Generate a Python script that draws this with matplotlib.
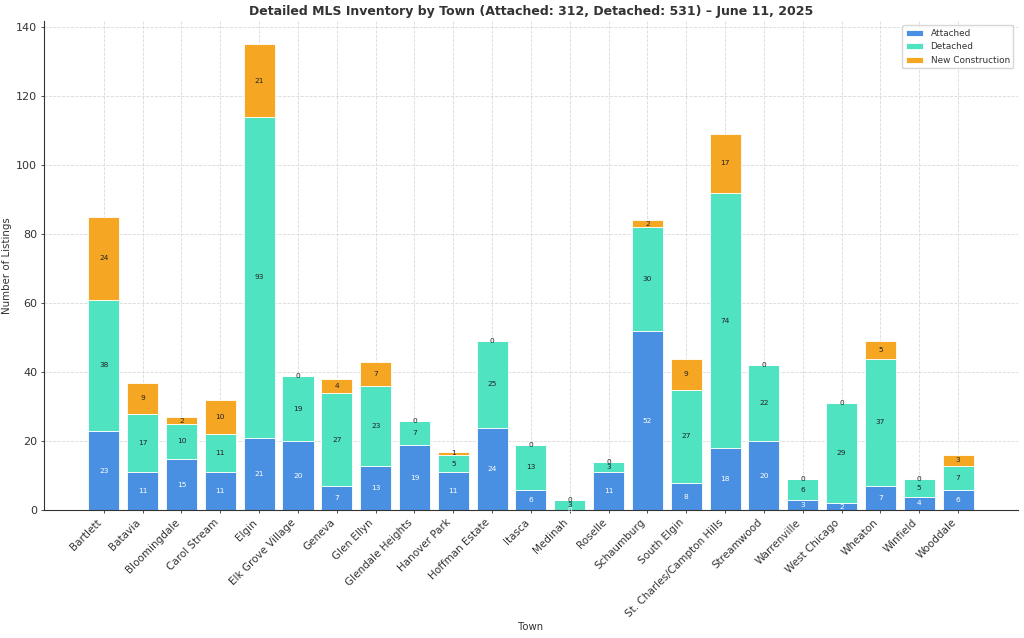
import matplotlib
matplotlib.use('Agg')
import matplotlib.pyplot as plt
import numpy as np

# MLS inventory, June 11, 2025
towns = ['Bartlett', 'Batavia', 'Bloomingdale', 'Carol Stream', 'Elgin',
         'Elk Grove Village', 'Geneva', 'Glen Ellyn', 'Glendale Heights',
         'Hanover Park', 'Hoffman Estate', 'Itasca', 'Medinah', 'Roselle',
         'Schaumburg', 'South Elgin', 'St. Charles/Campton Hills',
         'Streamwood', 'Warrenville', 'West Chicago', 'Wheaton', 'Winfield',
         'Wooddale']
attached = [23, 11, 15, 11, 21, 20, 7, 13, 19, 11, 24, 6, 0, 11, 52, 8, 18, 20, 3, 2, 7, 4, 6]
detached = [38, 17, 10, 11, 93, 19, 27, 23, 7, 5, 25, 13, 3, 3, 30, 27, 74, 22, 6, 29, 37, 5, 7]
new_construction = [24, 9, 2, 10, 21, 0, 4, 7, 0, 1, 0, 0, 0, 0, 2, 9, 17, 0, 0, 0, 5, 0, 3]

a = np.array(attached)
d = np.array(detached)
n = np.array(new_construction)
x = np.arange(len(towns))

txt = '#333333'
plt.rcParams['text.color'] = txt
plt.rcParams['axes.labelcolor'] = txt
plt.rcParams['xtick.color'] = txt
plt.rcParams['ytick.color'] = txt

fig, ax = plt.subplots(figsize=(10.24, 6.38), dpi=100)
ax.set_axisbelow(True)
ax.grid(True, linestyle='--', color='#d9d9d9', linewidth=0.6)

b1 = ax.bar(x, a, 0.8, label='Attached', color='#4A90E2', edgecolor='white', linewidth=0.6)
b2 = ax.bar(x, d, 0.8, bottom=a, label='Detached', color='#50E3C2', edgecolor='white', linewidth=0.6)
b3 = ax.bar(x, n, 0.8, bottom=a + d, label='New Construction', color='#F5A623', edgecolor='white', linewidth=0.6)

ax.bar_label(b1, labels=[str(v) for v in attached], label_type='center', fontsize=5.3, color='white')
ax.bar_label(b2, labels=[str(v) for v in detached], label_type='center', fontsize=5.3, color='#222222')
ax.bar_label(b3, labels=[str(v) for v in new_construction], label_type='center', fontsize=5.3, color='#222222')

ax.set_xticks(x)
ax.set_xticklabels(towns, rotation=45, ha='right', fontsize=7.5)
ax.tick_params(axis='y', labelsize=8)
ax.tick_params(length=2.5, pad=2.5, width=0.6)
ax.set_xlabel('Town', fontsize=7.3, labelpad=2)
ax.set_ylabel('Number of Listings', fontsize=7.4, labelpad=3)
ax.set_title('Detailed MLS Inventory by Town (Attached: 312, Detached: 531) \u2013 June 11, 2025',
             fontsize=9.0, fontweight='bold', color='#333333', pad=4)
ax.legend(loc='upper right', fontsize=6.4)
for s in ['top', 'right']:
    ax.spines[s].set_visible(False)
for s in ['left', 'bottom']:
    ax.spines[s].set_color('#333333')

plt.subplots_adjust(left=0.043, right=0.994, top=0.967, bottom=0.2)
plt.savefig('out.png', dpi=100)
